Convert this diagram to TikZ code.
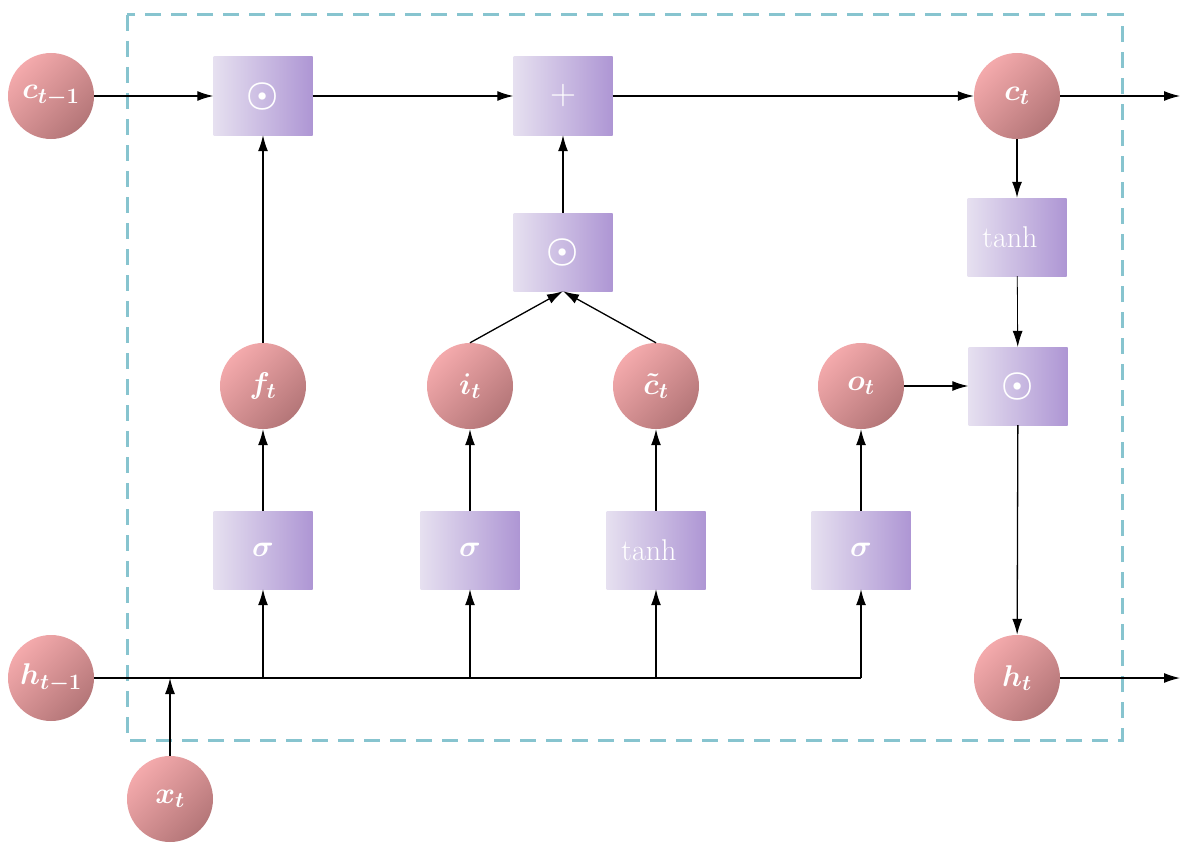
\documentclass[tikz,border=0pt]{standalone}
\usepackage{fix-cm}
\usepackage{amsmath,bm}
\DeclareMathSizes{30}{30}{22}{16}
\DeclareMathSizes{36}{36}{26}{20}
\usetikzlibrary{arrows.meta}
\definecolor{pinkL}{RGB}{244,170,172}
\definecolor{pinkD}{RGB}{180,118,120}
\definecolor{boxL}{RGB}{230,224,240}
\definecolor{boxR}{RGB}{174,150,212}
\definecolor{dashc}{RGB}{135,196,207}
\begin{document}
\begin{tikzpicture}[x=1pt,y=-1pt,
  cell/.style={circle,minimum size=86pt,inner sep=0pt,top color=pinkL,bottom color=pinkD,shading angle=45,text=white,font=\fontsize{30}{32}\selectfont},
  opbox/.style={rectangle,minimum width=99pt,minimum height=78pt,inner sep=0pt,left color=boxL,right color=boxR,text=white,font=\fontsize{30}{32}\selectfont},
  opsym/.style={opbox,font=\fontsize{36}{40}\selectfont},
  arr/.style={line width=1.3pt,-{Latex[length=16pt,width=10pt]}},
  ln/.style={line width=1.3pt}]
\useasboundingbox (0,0) rectangle (1191,851);
\draw[dashc,line width=3pt,dash pattern=on 16pt off 10pt] (127,15) rectangle (1122,740);
% circles
\node[cell] (cprev) at (51,96) {$\bm{c_{t-1}}$};
\node[cell] (ct) at (1017,96) {$\bm{c_t}$};
\node[cell] (hprev) at (51,678) {$\bm{h_{t-1}}$};
\node[cell] (ht) at (1017,678) {$\bm{h_t}$};
\node[cell] (xt) at (170,799) {$\bm{x_t}$};
\node[cell] (ft) at (263,386) {$\bm{f_t}$};
\node[cell] (it) at (470,386) {$\bm{i_t}$};
\node[cell] (cc) at (656,386) {$\bm{\tilde{c}_t}$};
\node[cell] (ot) at (861,386) {$\bm{o_t}$};
% boxes
\node[opsym] (m1) at (263,96) {$\bm{\odot}$};
\node[opsym] (plus) at (563,96) {$+$};
\node[opsym] (m2) at (563,252) {$\bm{\odot}$};
\node[opbox] (th) at (1017,237) {tanh\hspace*{14pt}};
\node[opsym] (m3) at (1018,386) {$\bm{\odot}$};
\node[opbox] (sf) at (263,550) {$\bm{\sigma}$};
\node[opbox] (si) at (470,550) {$\bm{\sigma}$};
\node[opbox] (sc) at (656,550) {tanh\hspace*{14pt}};
\node[opbox] (so) at (861,550) {$\bm{\sigma}$};
% coordinates
\coordinate (cout) at (1180,96);
\coordinate (hout) at (1180,678);
\coordinate (xj) at (170,678);
\coordinate (bf) at (263,678);
\coordinate (bi) at (470,678);
\coordinate (bc) at (656,678);
\coordinate (bo) at (861,678);
% connectors
\draw[arr] (cprev) -- (m1);
\draw[arr] (m1) -- (plus);
\draw[arr] (plus) -- (ct);
\draw[arr] (ct) -- (cout);
\draw[arr] (ct) -- (th);
\draw[arr,line width=0.8pt] (th) -- (m3);
\draw[arr] (ot) -- (m3);
\draw[arr] (m3) -- (ht);
\draw[arr] (ht) -- (hout);
\draw[arr] (ft) -- (m1);
\draw[arr] (m2) -- (plus);
\draw[arr] (it.north) -- (m2.south);
\draw[arr] (cc.north) -- (m2.south);
\draw[arr] (sf) -- (ft);
\draw[arr] (si) -- (it);
\draw[arr] (sc) -- (cc);
\draw[arr] (so) -- (ot);
\draw[ln] (hprev) -- (bo);
\draw[arr] (bo) -- (so);
\draw[arr] (bf) -- (sf);
\draw[arr] (bi) -- (si);
\draw[arr] (bc) -- (sc);
\draw[arr] (xt) -- (xj);
\end{tikzpicture}
\end{document}
